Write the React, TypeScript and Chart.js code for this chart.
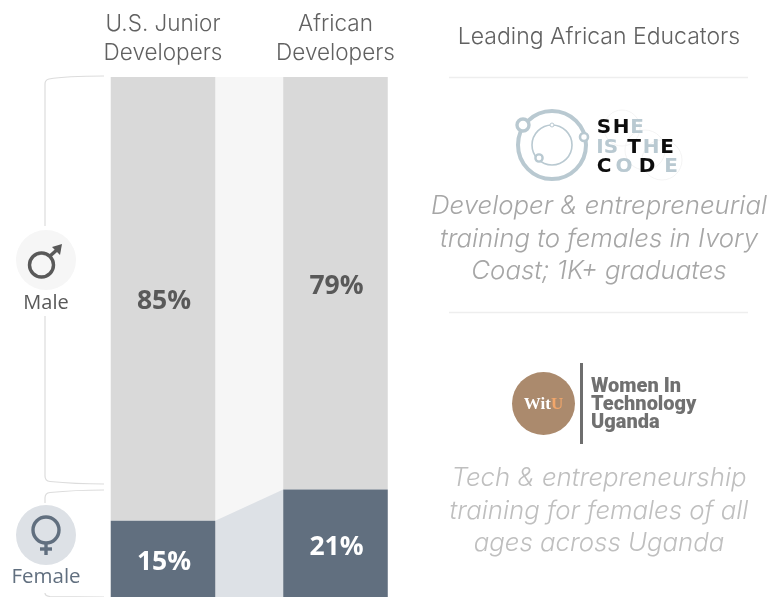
import React, { useEffect, useRef } from "react";
import { Chart, registerables } from "chart.js";

Chart.register(...registerables);

const categories = [["U.S. Junior", "Developers"], ["African", "Developers"]];
const femaleShare = [15, 21];
const maleShare = [85, 79];
const maleColor = "#d9d9d9";
const femaleColor = "#616f7f";
const maleBand = "#f6f6f6";
const femaleBand = "#dde1e6";
const headerFont = "Inter, sans-serif";
const bodyFont = "'Open Sans', sans-serif";

const educators = [
  { lines: ["Developer & entrepreneurial", "training to females in Ivory", "Coast; 1K+ graduates"], top: 188, color: "#a6a6a6" },
  { lines: ["Tech & entrepreneurship", "training for females of all", "ages across Uganda"], top: 460, color: "#bfbfbf" },
];

const logoBlue = "#b9c9d1";
const logoBlack = "#0d0d0d";
const sheLetters: [string, number, number, string][] = [
  ["S", 604, 133, logoBlack], ["H", 621, 133, logoBlack], ["E", 637, 133, logoBlue],
  ["I", 600, 152.5, logoBlue], ["S", 611, 152.5, logoBlue], ["T", 634, 152.5, logoBlack], ["H", 651, 152.5, logoBlue], ["E", 667, 152.5, logoBlack],
  ["C", 604, 172, logoBlack], ["O", 624, 172, logoBlue], ["D", 647, 172, logoBlack], ["E", 671, 172, logoBlue],
];

const bandsAndLabels = {
  id: "bandsAndLabels",
  beforeDatasetsDraw(chart: any) {
    const { ctx } = chart;
    const y = chart.scales.y;
    const bars = chart.getDatasetMeta(0).data;
    const half = bars[0].width / 2;
    const x0 = bars[0].x + half;
    const x1 = bars[1].x - half;
    ctx.save();
    ctx.fillStyle = maleBand;
    ctx.fillRect(x0, y.getPixelForValue(100), x1 - x0, y.getPixelForValue(0) - y.getPixelForValue(100));
    ctx.fillStyle = femaleBand;
    ctx.beginPath();
    ctx.moveTo(x0, y.getPixelForValue(femaleShare[0]));
    ctx.lineTo(x1, y.getPixelForValue(femaleShare[1]));
    ctx.lineTo(x1, y.getPixelForValue(0));
    ctx.lineTo(x0, y.getPixelForValue(0));
    ctx.closePath();
    ctx.fill();
    ctx.restore();
  },
  afterDatasetsDraw(chart: any) {
    const { ctx } = chart;
    const y = chart.scales.y;
    ctx.save();
    ctx.font = `700 26.5px ${bodyFont}`;
    ctx.textAlign = "center";
    ctx.textBaseline = "middle";
    chart.data.datasets.forEach((ds: any, d: number) => {
      const base = d === 0 ? [0, 0] : femaleShare;
      ds.data.forEach((v: number, i: number) => {
        const el = chart.getDatasetMeta(d).data[i];
        ctx.fillStyle = d === 0 ? "#ffffff" : "#595959";
        ctx.fillText(`${v}%`, el.x + 1, y.getPixelForValue(base[i] + v / 2) + 3);
      });
    });
    ctx.restore();
  },
};

export default function App() {
  const ref = useRef<HTMLCanvasElement>(null);
  useEffect(() => {
    const chart = new Chart(ref.current!, {
      type: "bar",
      data: {
        labels: categories as any,
        datasets: [
          { label: "Female", data: femaleShare, backgroundColor: femaleColor },
          { label: "Male", data: maleShare, backgroundColor: maleColor },
        ],
      },
      options: {
        animation: false,
        responsive: false,
        layout: { padding: { left: 76.75, right: 351.25, top: 0, bottom: 1 } },
        plugins: { legend: { display: false }, tooltip: { enabled: false } },
        datasets: { bar: { barPercentage: 0.606, categoryPercentage: 1, borderWidth: 0 } },
        scales: {
          x: {
            stacked: true,
            position: "top",
            grid: { display: false },
            border: { display: false },
            afterFit: (s: any) => { s.height = 77; },
            ticks: {
              maxRotation: 0,
              autoSkip: false,
              padding: 2,
              color: "#616161",
              font: { family: headerFont, size: 22.5, weight: "300", lineHeight: 1.26 },
            },
          },
          y: { stacked: true, display: false, min: 0, max: 100 },
        },
      } as any,
      plugins: [bandsAndLabels],
    });
    return () => chart.destroy();
  }, []);

  const text = (s: string, x: number, top: number, size: number, color: string, extra: any = {}) => (
    <div
      key={s + top}
      style={{ position: "absolute", left: x - 220, width: 440, top, textAlign: "center", fontSize: size, lineHeight: `${Math.round(size * 1.3)}px`, color, whiteSpace: "nowrap", ...extra }}
    >
      {s}
    </div>
  );

  return (
    <div style={{ position: "absolute", left: 0, top: 0, width: 773, height: 597, overflow: "hidden", background: "#fff" }}>
      <canvas ref={ref} width={773} height={600} style={{ display: "block", position: "absolute", left: 0, top: 0 }} />
      <svg width={773} height={597} style={{ position: "absolute", left: 0, top: 0 }}>
        <g fill="none" stroke="#dcdcdc" strokeWidth={1.2}>
          <path d="M104 76 C85 76 60 77 49 79 Q45 80 45 84 V226" />
          <path d="M45 316 V476 Q45 481 50 481.5 C65 483 85 484 104 484" />
          <path d="M104 490 C85 490 65 491 50 492.5 Q45 493 45 498 V503" />
          <path d="M45 593 Q45 596 50 596.5 L104 597" />
        </g>
        <line x1={449} x2={748} y1={77.5} y2={77.5} stroke="#eeeeee" strokeWidth={1.5} />
        <line x1={449} x2={748} y1={312.5} y2={312.5} stroke="#eeeeee" strokeWidth={1.5} />

        <circle cx={46} cy={260} r={30} fill={maleBand} />
        <g fill="none" stroke="#595959" strokeWidth={3.4}>
          <circle cx={41.5} cy={265} r={12} />
          <line x1={50} y1={256} x2={59} y2={248} />
        </g>
        <path d="M52 247 L62 244 L60 255 Z" fill="#595959" />
        <circle cx={46} cy={535} r={30} fill={femaleBand} />
        <g fill="none" stroke={femaleColor} strokeWidth={3.4}>
          <circle cx={46} cy={530} r={13} />
          <line x1={46} y1={543} x2={46} y2={555} />
          <line x1={40} y1={549} x2={52} y2={549} />
        </g>

        <g fill="none" stroke={logoBlue}>
          <circle cx={552} cy={145} r={34} strokeWidth={4} />
          <circle cx={552} cy={145} r={20} strokeWidth={1.6} />
          <circle cx={523} cy={125} r={6} strokeWidth={3.4} fill="#fff" />
          <circle cx={584} cy={137} r={4} strokeWidth={2.6} fill="#fff" />
          <circle cx={539} cy={158} r={3.6} strokeWidth={2.4} fill="#fff" />
          <circle cx={552} cy={125} r={2} strokeWidth={1} fill="#fff" />
        </g>
        <g fill="none" stroke="#f4f4f4">
          <circle cx={622} cy={128} r={18} />
          <circle cx={645} cy={150} r={20} />
          <circle cx={662} cy={160} r={20} />
        </g>
        <g fontFamily="'DejaVu Sans', sans-serif" fontWeight={700} fontSize={20} textAnchor="middle">
          {sheLetters.map(([c, x, y, col], i) => (
            <text key={i} x={x} y={y} fill={col}>{c}</text>
          ))}
        </g>

        <circle cx={543.5} cy={403.5} r={31.5} fill="#ab8a6d" />
        <text x={543.5} y={408.5} textAnchor="middle" fontFamily="'Liberation Serif', serif" fontWeight={700} fontSize={17} fill="#fff">
          Wit<tspan fill="#f2a66a">U</tspan>
        </text>
        <rect x={580} y={363} width={3} height={81} fill="#6e6e6e" />
        <g fontFamily="Roboto, sans-serif" fontWeight={900} fontSize={20} fill="#707070">
          <text x={591} y={392}>Women In</text>
          <text x={591} y={410}>Technology</text>
          <text x={591} y={428}>Uganda</text>
        </g>
      </svg>
      {text("Leading African Educators", 599, 21, 23, "#616161", { fontFamily: headerFont, fontWeight: 300 })}
      {text("Male", 46, 289, 20, "#595959", { fontFamily: bodyFont })}
      {text("Female", 46, 562, 20.5, femaleColor, { fontFamily: bodyFont })}
      {educators.map((e) =>
        e.lines.map((l, i) =>
          text(l, 599, e.top + i * 32.5, 25.8, e.color, { fontFamily: headerFont, fontStyle: "italic", fontWeight: 300 })
        )
      )}
    </div>
  );
}
